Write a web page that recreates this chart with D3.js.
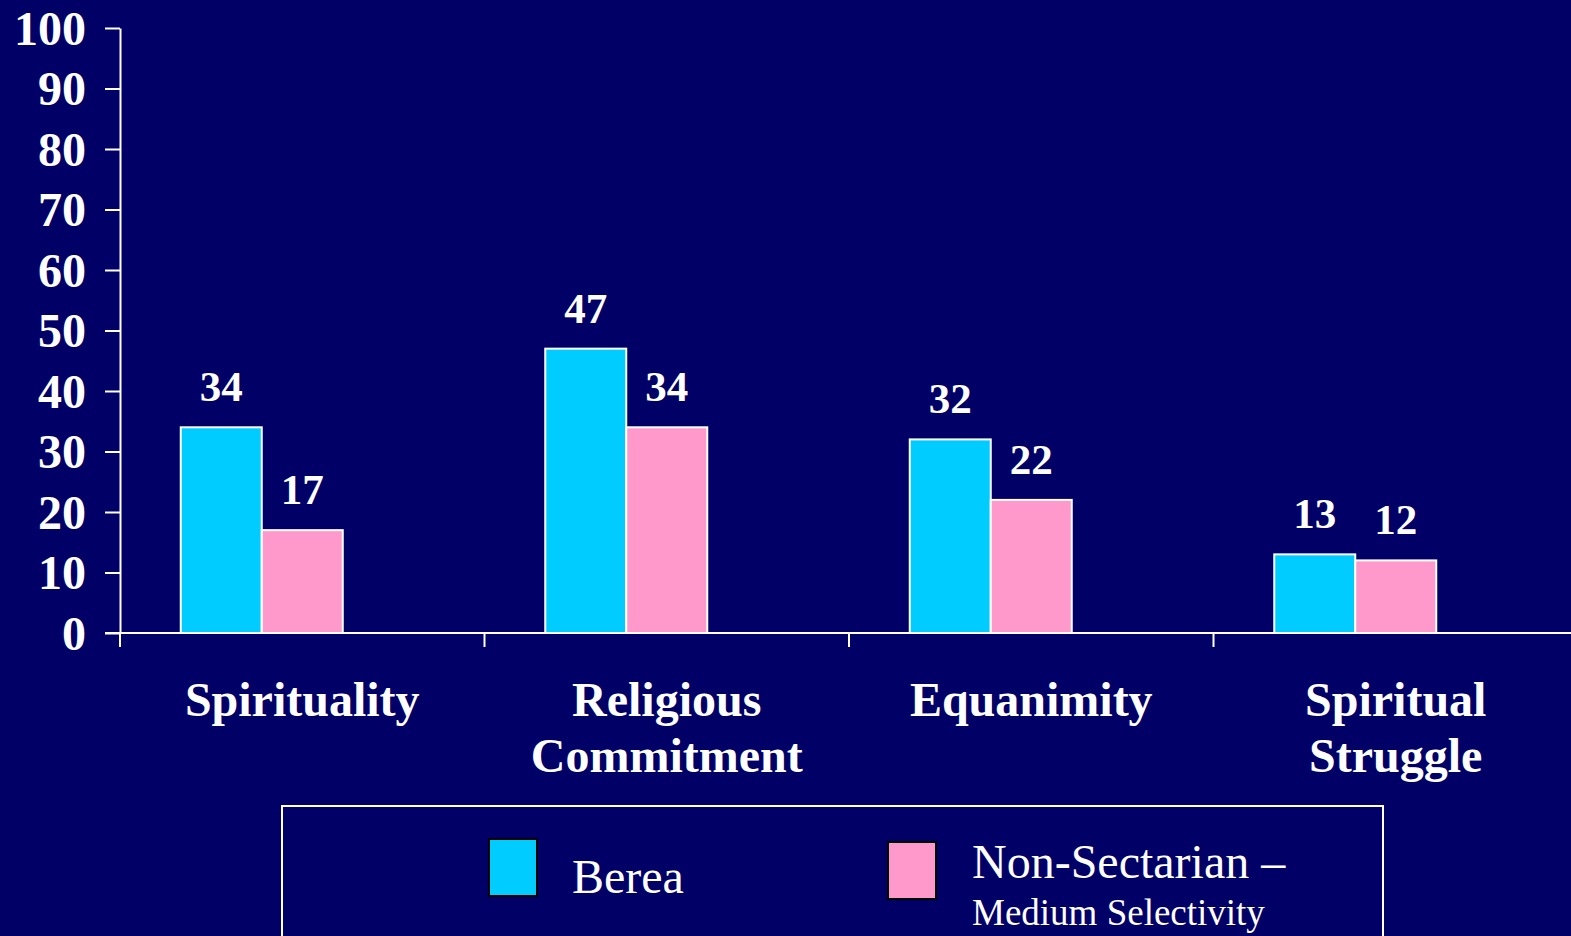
<!DOCTYPE html>
<html><head><meta charset="utf-8">
<script src="https://cdn.jsdelivr.net/npm/d3@7"></script>
<style>html,body{margin:0;padding:0;background:#000066;overflow:hidden}</style>
</head><body>
<svg id="c" width="1571" height="936"></svg>
<script>
const categories = [["Spirituality"], ["Religious", "Commitment"], ["Equanimity"], ["Spiritual", "Struggle"]];
const categoryKeys = ["Spirituality", "Religious Commitment", "Equanimity", "Spiritual Struggle"];
const seriesNames = ["Berea", "Non-Sectarian – Medium Selectivity"];
const bereaValues = [34, 47, 32, 13];
const nonSectarianValues = [17, 34, 22, 12];
const yTicks = [0, 10, 20, 30, 40, 50, 60, 70, 80, 90, 100];
const colors = ["#00CCFF", "#FF99CC"];

(function () {
const svg = d3.select("#c");
const W = 1571;
const plotLeft = 120, plotBottom = 633, plotTop = 28, step = 364.5;
const x0 = d3.scaleBand().domain(categoryKeys).range([plotLeft, plotLeft + step * 4]).padding(0);
const x1 = d3.scaleBand().domain([...seriesNames, "_empty"]).range([0, x0.bandwidth()]).paddingInner(0).paddingOuter(0.75);
const y = d3.scaleLinear().domain([0, 100]).range([plotBottom, plotTop]);

const serif = "'Liberation Serif','Times New Roman',serif";

// bars
const series = [bereaValues, nonSectarianValues];
series.forEach((vals, si) => {
  const g = svg.append("g");
  g.selectAll("rect").data(vals).join("rect")
    .attr("x", (d, i) => x0(categoryKeys[i]) + x1(seriesNames[si]))
    .attr("y", d => y(d))
    .attr("width", x1.bandwidth())
    .attr("height", d => y(0) - y(d))
    .attr("fill", colors[si])
    .attr("stroke", "#fff").attr("stroke-width", 2);
  g.selectAll("text").data(vals).join("text")
    .attr("x", (d, i) => x0(categoryKeys[i]) + x1(seriesNames[si]) + x1.bandwidth() / 2)
    .attr("y", d => y(d) - 26)
    .attr("text-anchor", "middle")
    .attr("fill", "#fff").attr("font-family", serif).attr("font-weight", "bold").attr("font-size", 43)
    .text(d => d);
});

// y axis
const yAxis = svg.append("g").attr("transform", `translate(${plotLeft},0)`)
  .call(d3.axisLeft(y).tickValues(yTicks).tickSize(15).tickSizeOuter(0).tickPadding(19));
yAxis.select(".domain").attr("stroke", "#fff").attr("stroke-width", 2);
yAxis.selectAll(".tick line").attr("stroke", "#fff").attr("stroke-width", 2);
yAxis.selectAll(".tick text").attr("fill", "#fff").attr("font-family", serif).attr("font-weight", "bold").attr("font-size", 48).attr("dy", "0.34em");

// x axis line
svg.append("line").attr("x1", 105).attr("x2", W).attr("y1", plotBottom).attr("y2", plotBottom).attr("stroke", "#fff").attr("stroke-width", 2);
svg.append("g").selectAll("line").data(categoryKeys).join("line")
  .attr("x1", d => x0(d)).attr("x2", d => x0(d))
  .attr("y1", plotBottom).attr("y2", plotBottom + 14)
  .attr("stroke", "#fff").attr("stroke-width", 2);

// category labels
const cl = svg.append("g").selectAll("text").data(categories).join("text")
  .attr("x", (d, i) => x0(categoryKeys[i]) + x0.bandwidth() / 2)
  .attr("y", 716)
  .attr("text-anchor", "middle")
  .attr("fill", "#fff").attr("font-family", serif).attr("font-weight", "bold").attr("font-size", 48);
cl.each(function(d) {
  const t = d3.select(this);
  d.forEach((line, j) => {
    t.append("tspan").attr("x", t.attr("x")).attr("dy", j === 0 ? 0 : 56).text(line);
  });
});

// legend
svg.append("rect").attr("x", 282).attr("y", 806).attr("width", 1101).attr("height", 200)
  .attr("fill", "none").attr("stroke", "#fff").attr("stroke-width", 2);
svg.append("rect").attr("x", 489).attr("y", 839).attr("width", 48).attr("height", 57)
  .attr("fill", colors[0]).attr("stroke", "#000").attr("stroke-width", 2);
svg.append("rect").attr("x", 888).attr("y", 842).attr("width", 48).attr("height", 57)
  .attr("fill", colors[1]).attr("stroke", "#000").attr("stroke-width", 2);
svg.append("text").attr("x", 572).attr("y", 893).attr("fill", "#fff").attr("font-family", serif).attr("font-size", 48).text("Berea");
svg.append("text").attr("x", 972).attr("y", 878).attr("fill", "#fff").attr("font-family", serif).attr("font-size", 48).text("Non-Sectarian –");
svg.append("text").attr("x", 972).attr("y", 925).attr("fill", "#fff").attr("font-family", serif).attr("font-size", 37).text("Medium Selectivity");
})();
</script>
</body></html>
